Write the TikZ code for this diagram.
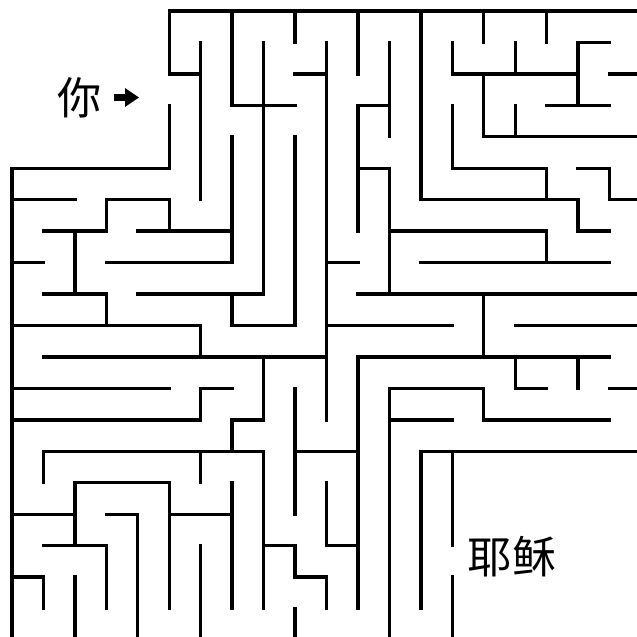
\documentclass[tikz,border=0pt]{standalone}
\usepackage{fontspec}
\newfontfamily\cjk{Noto Sans CJK SC}
\usetikzlibrary{arrows.meta}
\begin{document}
\begin{tikzpicture}[x=0.5cm, y=-0.5cm,
wall/.style={line width=1.5pt, line cap=rect},
cjklabel/.style={font=\cjk\fontsize{20}{24}\selectfont, inner sep=0pt},
pointer/.style={line width=3.6pt, -{Triangle[length=0.22cm, width=0.28cm]}},
]
\useasboundingbox (-0.3816,-0.3498) rectangle (19.873,19.905);
\clip (-0.3816,-0.3498) rectangle (19.873,19.905);

%Nodes
\node[cjklabel]      (you)    at (2.16,2.75)   {你};
\node[cjklabel]      (jesus)  at (15.9,17.36)  {耶稣};
\coordinate          (entry)  at (4.04,2.75);

%Arrow
\draw[pointer, shorten <=0.19cm] (you) -- (entry);

%Horizontal walls
\draw[wall] (5,0) -- (20,0);
\draw[wall] (18,1) -- (19,1);
\draw[wall] (5,2) -- (6,2)  (9,2) -- (10,2)  (14,2) -- (18,2)  (19,2) -- (20,2);
\draw[wall] (7,3) -- (9,3)  (11,3) -- (12,3)  (17,3) -- (19,3);
\draw[wall] (15,4) -- (20,4);
\draw[wall] (0,5) -- (5,5)  (11,5) -- (12,5)  (14,5) -- (17,5)  (18,5) -- (19,5);
\draw[wall] (0,6) -- (2,6)  (3,6) -- (5,6)  (13,6) -- (18,6)  (19,6) -- (20,6);
\draw[wall] (1,7) -- (3,7)  (4,7) -- (7,7)  (12,7) -- (17,7)  (18,7) -- (19,7);
\draw[wall] (0,8) -- (1,8)  (3,8) -- (7,8)  (10,8) -- (11,8)  (13,8) -- (19,8);
\draw[wall] (1,9) -- (3,9)  (4,9) -- (8,9)  (11,9) -- (20,9);
\draw[wall] (0,10) -- (6,10)  (7,10) -- (9,10)  (10,10) -- (14,10)  (16,10) -- (20,10);
\draw[wall] (1,11) -- (10,11)  (11,11) -- (19,11);
\draw[wall] (0,12) -- (5,12)  (6,12) -- (7,12)  (12,12) -- (15,12)  (16,12) -- (17,12)  (19,12) -- (20,12);
\draw[wall] (0,13) -- (6,13)  (7,13) -- (8,13)  (12,13) -- (14,13)  (15,13) -- (19,13);
\draw[wall] (1,14) -- (8,14)  (9,14) -- (11,14)  (13,14) -- (20,14);
\draw[wall] (2,15) -- (5,15);
\draw[wall] (0,16) -- (2,16)  (3,16) -- (4,16)  (5,16) -- (7,16);
\draw[wall] (1,17) -- (3,17)  (8,17) -- (9,17)  (10,17) -- (11,17);
\draw[wall] (0,18) -- (1,18)  (9,18) -- (10,18);

%Vertical walls
\draw[wall] (0,5) -- (0,20);
\draw[wall] (1,14) -- (1,15)  (1,18) -- (1,19);
\draw[wall] (2,7) -- (2,9)  (2,15) -- (2,17)  (2,18) -- (2,20);
\draw[wall] (3,6) -- (3,7)  (3,9) -- (3,10)  (3,17) -- (3,19);
\draw[wall] (4,16) -- (4,20);
\draw[wall] (5,0) -- (5,2)  (5,3) -- (5,5)  (5,6) -- (5,7)  (5,15) -- (5,19);
\draw[wall] (6,1) -- (6,6)  (6,10) -- (6,11)  (6,12) -- (6,13)  (6,14) -- (6,15)  (6,17) -- (6,20);
\draw[wall] (7,0) -- (7,3)  (7,4) -- (7,8)  (7,9) -- (7,10)  (7,13) -- (7,14)  (7,15) -- (7,19);
\draw[wall] (8,1) -- (8,9)  (8,11) -- (8,13)  (8,14) -- (8,19);
\draw[wall] (9,0) -- (9,1)  (9,4) -- (9,10)  (9,12) -- (9,16)  (9,17) -- (9,18)  (9,19) -- (9,20);
\draw[wall] (10,1) -- (10,13)  (10,15) -- (10,17)  (10,18) -- (10,19);
\draw[wall] (11,0) -- (11,2)  (11,3) -- (11,7)  (11,11) -- (11,19);
\draw[wall] (12,1) -- (12,4)  (12,5) -- (12,9)  (12,12) -- (12,20);
\draw[wall] (13,0) -- (13,6)  (13,14) -- (13,19);
\draw[wall] (14,1) -- (14,2)  (14,3) -- (14,5)  (14,14) -- (14,17)  (14,18) -- (14,20);
\draw[wall] (15,0) -- (15,1)  (15,2) -- (15,4)  (15,9) -- (15,11)  (15,12) -- (15,13);
\draw[wall] (16,1) -- (16,2)  (16,3) -- (16,4)  (16,11) -- (16,12);
\draw[wall] (17,0) -- (17,1)  (17,5) -- (17,6)  (17,7) -- (17,8);
\draw[wall] (18,1) -- (18,3)  (18,6) -- (18,7)  (18,11) -- (18,12);
\draw[wall] (19,5) -- (19,6);

\end{tikzpicture}
\end{document}
